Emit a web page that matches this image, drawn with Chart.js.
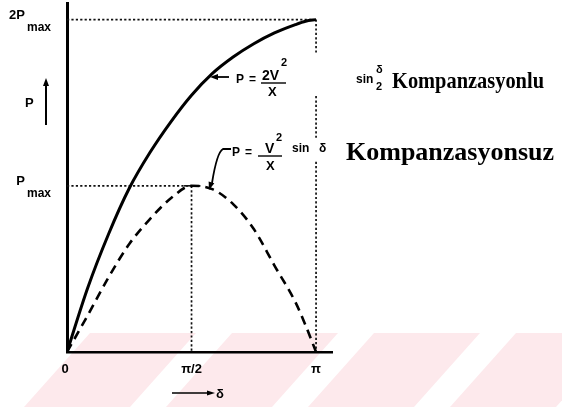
<!DOCTYPE html>
<html>
<head>
<meta charset="utf-8">
<script src="https://cdn.jsdelivr.net/npm/chart.js@4.4.0/dist/chart.umd.min.js"></script>
<style>
  html, body { margin: 0; padding: 0; background: #fff; }
  #wrap { width: 562px; height: 407px; }
</style>
</head>
<body>
<div id="wrap"><canvas id="c" width="562" height="407"></canvas></div>
<script>
// Load angle δ (in units of π)
const deltaPi = [0, 0.083, 0.167, 0.25, 0.333, 0.417, 0.5, 0.583, 0.667, 0.75, 0.833, 0.917, 0.958, 1];
// Transmitted power (in units of Pmax), series-compensated line
const pCompensated = [0, 0.385, 0.71, 0.985, 1.2, 1.385, 1.545, 1.675, 1.775, 1.855, 1.92, 1.97, 1.99, 2.0];
// Transmitted power (in units of Pmax), uncompensated line
const pUncompensated = [0, 0.22, 0.45, 0.65, 0.80, 0.925, 1.0, 0.98, 0.89, 0.74, 0.52, 0.30, 0.16, 0];

const xTickValues = [0, 0.5, 1];
const xTickLabels = ['0', 'π/2', 'π'];
const yTickValues = [1, 2];
const yTickLabels = ['P', '2P'];

const toPoints = (xs, ys) => xs.map((x, i) => ({ x, y: ys[i] }));

const SANS = '"Liberation Sans", Arial, sans-serif';
const SERIF = '"Liberation Serif", "Times New Roman", serif';

function arrowHead(ctx, x, y, angle, len, half) {
  ctx.save();
  ctx.translate(x, y);
  ctx.rotate(angle);
  ctx.beginPath();
  ctx.moveTo(0, 0);
  ctx.lineTo(-len, -half);
  ctx.lineTo(-len, half);
  ctx.closePath();
  ctx.fill();
  ctx.restore();
}

// faint diagonal band along the bottom
const stripes = {
  id: 'stripes',
  beforeDraw(chart) {
    const ctx = chart.ctx;
    const top = 333, bottom = 407, shift = 66, w = 106;
    ctx.save();
    ctx.fillStyle = '#fde9ec';
    for (const x0 of [90, 232, 374, 516]) {
      ctx.beginPath();
      ctx.moveTo(x0, top);
      ctx.lineTo(x0 + w, top);
      ctx.lineTo(x0 + w - shift, bottom);
      ctx.lineTo(x0 - shift, bottom);
      ctx.closePath();
      ctx.fill();
    }
    ctx.restore();
  }
};

// dotted reference lines to Pmax / 2Pmax
const guides = {
  id: 'guides',
  beforeDatasetsDraw(chart) {
    const ctx = chart.ctx;
    const xs = chart.scales.x, ys = chart.scales.y;
    const px = v => xs.getPixelForValue(v), py = v => ys.getPixelForValue(v);
    ctx.save();
    ctx.strokeStyle = '#111';
    ctx.lineWidth = 1.7;
    ctx.setLineDash([2.2, 2.2]);
    const seg = (x1, y1, x2, y2) => { ctx.beginPath(); ctx.moveTo(x1, y1); ctx.lineTo(x2, y2); ctx.stroke(); };
    // 2Pmax
    seg(px(0), py(2), px(1), py(2));
    // vertical at π, broken behind the formula labels
    const pieces = [[2, 1.80], [1.54, 1.28], [1.145, 0]];
    for (const [a, b] of pieces) seg(px(1), py(a), px(1), py(b));
    // Pmax
    seg(px(0), py(1), px(0.535), py(1));
    seg(px(0.5), py(1), px(0.5), py(0));
    ctx.setLineDash([]);
    ctx.lineWidth = 1.6;
    seg(px(0.47), py(1), px(0.535), py(1));
    ctx.restore();
  }
};

// axis labels, formulas and captions
const labels = {
  id: 'labels',
  afterDraw(chart) {
    const ctx = chart.ctx;
    const xs = chart.scales.x, ys = chart.scales.y;
    ctx.save();
    ctx.fillStyle = '#000';
    ctx.strokeStyle = '#000';
    ctx.textBaseline = 'alphabetic';

    // x tick labels
    ctx.font = 'bold 13px ' + SANS;
    ctx.textAlign = 'center';
    xTickValues.forEach((v, i) => {
      ctx.fillText(xTickLabels[i], xs.getPixelForValue(v) - (i === 0 ? 2 : 0), 373);
    });

    // y tick labels with subscript
    yTickValues.forEach((v, i) => {
      const y = ys.getPixelForValue(v);
      ctx.textAlign = 'right';
      ctx.font = 'bold 13px ' + SANS;
      ctx.fillText(yTickLabels[i], 25, y - 1);
      ctx.textAlign = 'left';
      ctx.font = 'bold 12px ' + SANS;
      ctx.fillText('max', 27, y + 11);
    });

    // P axis caption with upward arrow
    ctx.font = 'bold 13px ' + SANS;
    ctx.textAlign = 'left';
    ctx.fillText('P', 25, 107);
    ctx.lineWidth = 2;
    ctx.beginPath(); ctx.moveTo(46, 125); ctx.lineTo(46, 84); ctx.stroke();
    arrowHead(ctx, 46, 78, -Math.PI / 2, 8, 3);

    // δ caption with right arrow
    ctx.lineWidth = 1.5;
    ctx.beginPath(); ctx.moveTo(172, 393); ctx.lineTo(208, 393); ctx.stroke();
    arrowHead(ctx, 215, 393, 0, 8, 2.5);
    ctx.font = 'bold 13px ' + SANS;
    ctx.fillText('δ', 216, 398);

    // compensated formula: P = 2V²/X sin δ/2
    ctx.lineWidth = 1.8;
    ctx.beginPath(); ctx.moveTo(229, 77); ctx.lineTo(216, 77); ctx.stroke();
    arrowHead(ctx, 210, 77, Math.PI, 8, 3);
    ctx.font = 'bold 12px ' + SANS;
    ctx.fillText('P', 236, 83);
    ctx.fillText('=', 249, 83);
    ctx.font = 'bold 14px ' + SANS;
    ctx.fillText('2V', 262, 80);
    ctx.font = 'bold 11px ' + SANS;
    ctx.fillText('2', 281, 66);
    ctx.lineWidth = 1.4;
    ctx.beginPath(); ctx.moveTo(261, 83); ctx.lineTo(286, 83); ctx.stroke();
    ctx.font = 'bold 13px ' + SANS;
    ctx.fillText('X', 268, 96);
    ctx.font = 'bold 12px ' + SANS;
    ctx.fillText('sin', 356, 83);
    ctx.font = 'bold 11px ' + SANS;
    ctx.fillText('δ', 376, 73);
    ctx.fillText('2', 376, 90);
    ctx.font = 'bold 24px ' + SERIF;
    ctx.fillText('Kompanzasyonlu', 392, 88, 152);

    // uncompensated formula: P = V²/X sin δ
    ctx.lineWidth = 1.8;
    ctx.beginPath();
    ctx.moveTo(231, 149);
    ctx.lineTo(223, 149);
    ctx.quadraticCurveTo(217, 152, 212, 183);
    ctx.stroke();
    arrowHead(ctx, 209, 190, Math.PI * 0.6, 8, 3);
    ctx.font = 'bold 12px ' + SANS;
    ctx.fillText('P', 232, 156);
    ctx.fillText('=', 245, 156);
    ctx.font = 'bold 14px ' + SANS;
    ctx.fillText('V', 265, 153);
    ctx.font = 'bold 11px ' + SANS;
    ctx.fillText('2', 276, 141);
    ctx.lineWidth = 1.4;
    ctx.beginPath(); ctx.moveTo(258, 156); ctx.lineTo(282, 156); ctx.stroke();
    ctx.font = 'bold 13px ' + SANS;
    ctx.fillText('X', 266, 170);
    ctx.font = 'bold 12px ' + SANS;
    ctx.fillText('sin', 292, 152);
    ctx.fillText('δ', 319, 152);
    ctx.font = 'bold 26px ' + SERIF;
    ctx.fillText('Kompanzasyonsuz', 346, 160, 209);

    ctx.restore();
  }
};

new Chart(document.getElementById('c'), {
  type: 'line',
  data: {
    datasets: [
      {
        label: 'Kompanzasyonlu',
        data: toPoints(deltaPi, pCompensated),
        borderColor: '#000',
        borderWidth: 3,
        pointRadius: 0,
        cubicInterpolationMode: 'monotone',
        fill: false
      },
      {
        label: 'Kompanzasyonsuz',
        data: toPoints(deltaPi, pUncompensated),
        borderColor: '#000',
        borderWidth: 2.6,
        borderDash: [9, 6],
        pointRadius: 0,
        cubicInterpolationMode: 'monotone',
        fill: false
      }
    ]
  },
  options: {
    responsive: false,
    animation: false,
    devicePixelRatio: 1,
    layout: { padding: { left: 67, right: 230, top: 3, bottom: 55 } },
    plugins: { legend: { display: false }, tooltip: { enabled: false } },
    scales: {
      x: {
        type: 'linear', min: 0, max: 1.064,
        grid: { display: false, drawTicks: false },
        ticks: { display: false },
        border: { display: true, color: '#000', width: 2.6 }
      },
      y: {
        type: 'linear', min: 0, max: 2.1,
        grid: { display: false, drawTicks: false },
        ticks: { display: false },
        border: { display: true, color: '#000', width: 3 }
      }
    }
  },
  plugins: [stripes, guides, labels]
});
</script>
</body>
</html>
